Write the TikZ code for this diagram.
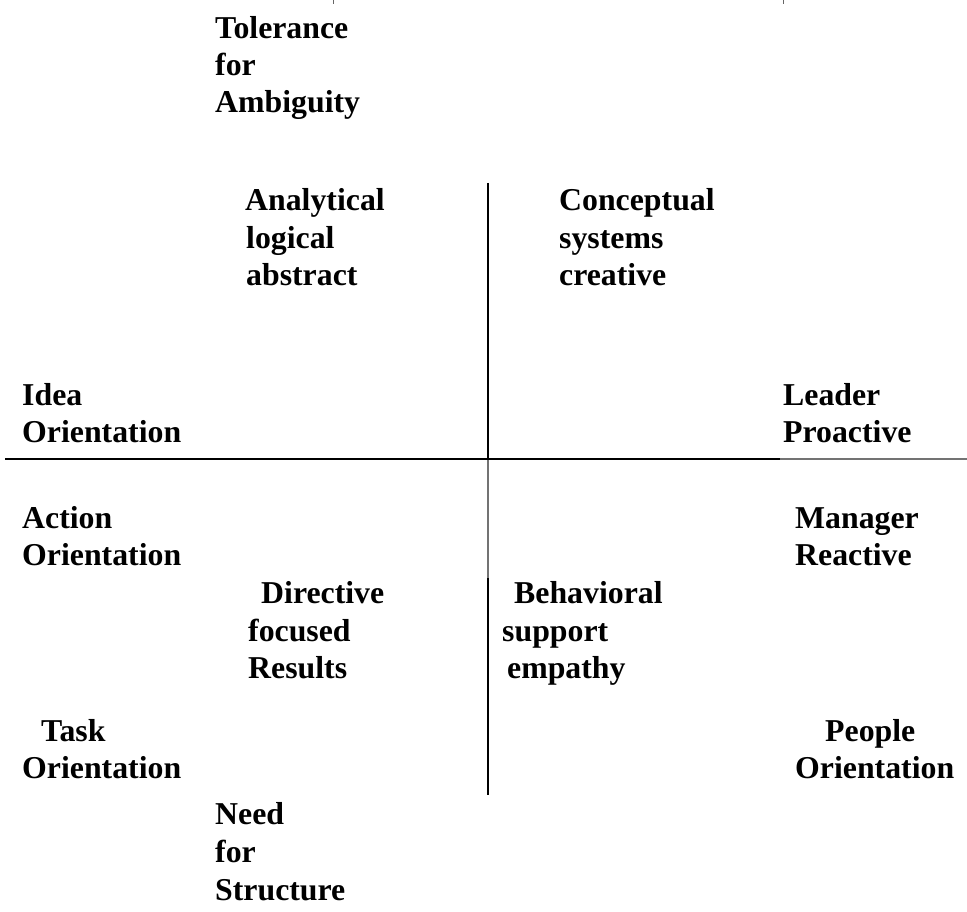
\documentclass[tikz,border=0pt]{standalone}
\usepackage{fontspec}
\setmainfont{Liberation Serif}
\begin{document}
\begin{tikzpicture}[x=1pt,y=-1pt,
  lbl/.style={anchor=base west,inner sep=0pt,font=\fontsize{31.8}{37}\selectfont\bfseries},
  axis/.style={line width=2pt,black},
  faint/.style={line width=1.2pt,black!55}]
\useasboundingbox (0,0) rectangle (967,912);
% axes
\coordinate (vtop) at (488,183);
\coordinate (vc) at (488,459);
\coordinate (vmid) at (488,578);
\coordinate (vbot) at (488,795);
\coordinate (hl) at (5,459);
\coordinate (hm) at (780,459);
\coordinate (hr) at (967,459);
\draw[axis] (vtop) -- (vc);
\draw[faint] (vc) -- (vmid);
\draw[axis] (vmid) -- (vbot);
\draw[axis] (hl) -- (hm);
\draw[faint] (hm) -- (hr);
% cut marks at the top edge
\coordinate (ta1) at (333,0); \coordinate (ta2) at (333,4);
\coordinate (tb1) at (783,0); \coordinate (tb2) at (783,4);
\draw[line width=0.8pt,black!60] (ta1) -- (ta2);
\draw[line width=0.8pt,black!60] (tb1) -- (tb2);
% labels
\node[lbl] (t1) at (215,39) {Tolerance};
\node[lbl] (t2) at (215,76) {for};
\node[lbl] (t3) at (215,113) {Ambiguity};
\node[lbl] (a1) at (245,211) {Analytical};
\node[lbl] (a2) at (246,249) {logical};
\node[lbl] (a3) at (246,286) {abstract};
\node[lbl] (c1) at (559,211) {Conceptual};
\node[lbl] (c2) at (559,249) {systems};
\node[lbl] (c3) at (559,286) {creative};
\node[lbl] (i1) at (22,405) {Idea};
\node[lbl] (i2) at (22,442) {Orientation};
\node[lbl] (l1) at (783,405) {Leader};
\node[lbl] (l2) at (783,442) {Proactive};
\node[lbl] (ac1) at (22,528) {Action};
\node[lbl] (ac2) at (22,565) {Orientation};
\node[lbl] (m1) at (795,528) {Manager};
\node[lbl] (m2) at (795,565) {Reactive};
\node[lbl] (d1) at (261,603) {Directive};
\node[lbl] (d2) at (248,641) {focused};
\node[lbl] (d3) at (248,678) {Results};
\node[lbl] (b1) at (514,603) {Behavioral};
\node[lbl] (b2) at (502,641) {support};
\node[lbl] (b3) at (507,678) {empathy};
\node[lbl] (k1) at (41,741) {Task};
\node[lbl] (k2) at (22,778) {Orientation};
\node[lbl] (p1) at (825,741) {People};
\node[lbl] (p2) at (795,778) {Orientation};
\node[lbl] (n1) at (215,824) {Need};
\node[lbl] (n2) at (215,862) {for};
\node[lbl] (n3) at (215,900) {Structure};
\end{tikzpicture}
\end{document}
